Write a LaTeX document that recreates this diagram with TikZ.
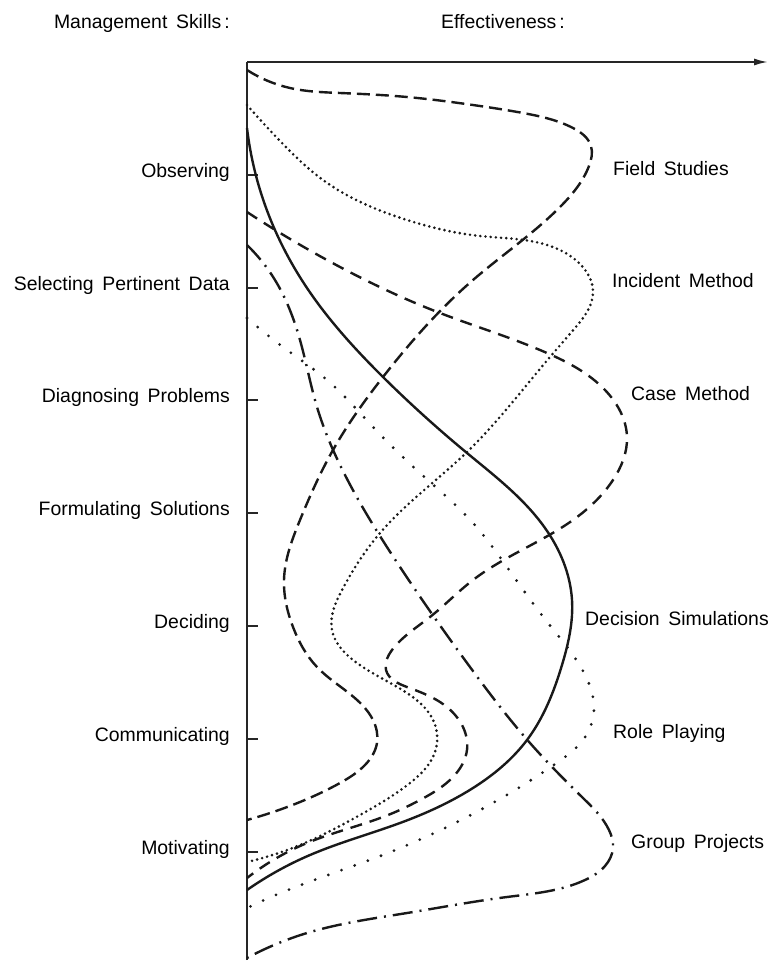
\documentclass[tikz,border=0pt]{standalone}
\usepackage{fontspec}
\setmainfont{Liberation Sans}[WordSpace=1.6]
\usetikzlibrary{arrows.meta,hobby}

\tikzset{
  lbl/.style={inner sep=0pt, font=\fontsize{19.5}{23}\selectfont},
  skill/.style={lbl, anchor=base east},
  method/.style={lbl, anchor=base west},
  axisline/.style={line width=1.8bp, black!85},
  tickmark/.style={line width=1.5bp, black!85},
  curve/.style={line width=2.4bp, black!90, use Hobby shortcut},
  fieldline/.style={curve, dash pattern=on 13bp off 6bp},
  incidentline/.style={curve, line width=2.9bp, line cap=round, dash pattern=on 0bp off 5.2bp},
  caseline/.style={curve, dash pattern=on 12bp off 8bp},
  simline/.style={curve},
  roleline/.style={curve, line width=3.1bp, line cap=round, dash pattern=on 0bp off 14bp},
  groupline/.style={curve, dash pattern=on 20bp off 7bp on 2bp off 7bp},
}

\begin{document}
\begin{tikzpicture}[x=1bp, y=-1bp]
\useasboundingbox (0,0) rectangle (770,962);

% axes
\coordinate (origin) at (247,62);
\coordinate (ybottom) at (247,960);
\coordinate (xend) at (768,62);
\draw[axisline] (ybottom) -- (origin);
\draw[axisline, -{Latex[length=14bp, width=7bp]}] (origin) -- (xend);

% headings
\node[skill] (hskills) at (230,28) {Management Skills\kern3bp:};
\node[method] (heff) at (441,28) {Effectiveness\kern3bp:};

% skill ticks and labels
\foreach \y/\name/\txt in {
  175/observing/Observing,
  288/selecting/Selecting Pertinent Data,
  400/diagnosing/Diagnosing Problems,
  513/formulating/Formulating Solutions,
  626/deciding/Deciding,
  739/communicating/Communicating,
  852/motivating/Motivating}{
  \coordinate (t-\name) at (247,\y);
  \draw[tickmark] (t-\name) -- ++(11,0);
  \node[skill] (\name) at (230,\y+2) {\txt};
}

% method labels
\node[method] (field)    at (613,175) {Field Studies};
\node[method] (incident) at (612,287) {Incident Method};
\node[method] (case)     at (631,400) {Case Method};
\node[method] (sim)      at (585,625) {Decision Simulations};
\node[method] (role)     at (613,738) {Role Playing};
\node[method] (group)    at (631,848) {Group Projects};

% Field Studies
\draw[fieldline] (247,70) .. (290,88) .. (340,93) .. (407,97) .. (473,105)
  .. (523,113) .. (573,128) .. (591,146) .. (589,166) .. (560,207)
  .. (473,280) .. (383,377) .. (333,450) .. (300,520) .. (284,580)
  .. (293,627) .. (317,667) .. (350,694) .. (373,720) .. (377,743)
  .. (365,765) .. (340,783) .. (300,802) .. (247,820);

% Incident Method
\draw[incidentline] (247,105) .. (282,143) .. (323,180) .. (407,220)
  .. (480,236) .. (540,243) .. (578,262) .. (593,293) .. (575,328)
  .. (550,357) .. (467,452) .. (380,533) .. (342,590) .. (332,630)
  .. (353,660) .. (407,693) .. (434,722) .. (435,752) .. (410,783)
  .. (360,815) .. (300,845) .. (247,862);

% Case Method
\draw[caseline] (247,212) .. (340,267) .. (440,313) .. (547,353)
  .. (605,390) .. (627,437) .. (613,480) .. (573,520) .. (473,580)
  .. (430,617) .. (392,650) .. (386,670) .. (407,687) .. (440,702)
  .. (462,725) .. (467,750) .. (453,777) .. (420,800) .. (393,813)
  .. (307,843) .. (247,878);

% Decision Simulations
\draw[simline] (247,128) .. (265,205) .. (307,288) .. (383,377)
  .. (467,453) .. (545,528) .. (572,600) .. (562,665) .. (527,740)
  .. (473,788) .. (400,823) .. (310,855) .. (247,890);

% Role Playing
\draw[roleline] (247,318) .. (287,350) .. (327,380) .. (373,427)
  .. (420,473) .. (473,523) .. (507,567) .. (548,623) .. (587,679)
  .. (594,710) .. (583,740) .. (558,762) .. (520,787) .. (447,827)
  .. (388,853) .. (283,892) .. (247,908);

% Group Projects
\draw[groupline] (247,245) .. (275,280) .. (300,340) .. (317,407)
  .. (345,475) .. (400,567) .. (470,667) .. (530,743) .. (583,798)
  .. (609,830) .. (613,848) .. (605,866) .. (585,880) .. (507,897)
  .. (407,913) .. (307,933) .. (247,958);
\end{tikzpicture}
\end{document}
